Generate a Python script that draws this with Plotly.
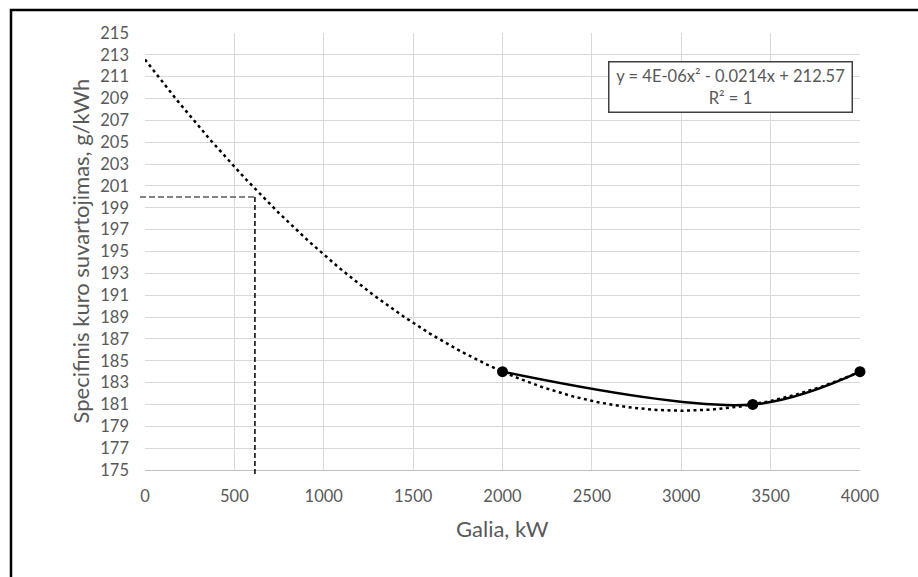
import numpy as np
import plotly.graph_objects as go

# Measured operating points: engine power (kW) vs specific fuel consumption (g/kWh)
power_kw = [2000, 3400, 4000]
consumption = [184, 181, 184]

# Polynomial trendline settings (order 2, projected back to 0 kW)
trend_start_kw = 0
trend_end_kw = 4000
trend_equation = "y = 4E-06x² - 0.0214x + 212.57"
trend_r2 = "R² = 1"

# Reading guide: 200 g/kWh
ref_power_kw = 615
ref_consumption = 200

x_ticks = [0, 500, 1000, 1500, 2000, 2500, 3000, 3500, 4000]
y_ticks = list(range(175, 216, 2))
x_range = [0, 4000]
y_range = [175, 215]

x_title = "Galia, kW"
y_title = "Specifinis kuro suvartojimas, g/kWh"

FONT = "Lato"
TXT = "#595959"
GRID = "#d9d9d9"

# Layout geometry (px)
W, H = 918, 577
ML, MR, MT, MB = 145, 58, 33, 107
PW, PH = W - ML - MR, H - MT - MB


def px_to_paper_x(px):
    return (px - ML) / PW


def px_to_paper_y(py):
    return (H - MB - py) / PH


def data_to_paper_x(v):
    return (v - x_range[0]) / (x_range[1] - x_range[0])


def data_to_paper_y(v):
    return (v - y_range[0]) / (y_range[1] - y_range[0])


coef = np.polyfit(power_kw, consumption, 2)
trend_x = np.linspace(trend_start_kw, trend_end_kw, 300)
trend_y = np.polyval(coef, trend_x)

fig = go.Figure()

fig.add_trace(go.Scatter(
    x=trend_x, y=trend_y, mode="lines",
    line=dict(color="black", width=2.5, dash="3px,3.5px"),
    hoverinfo="skip", showlegend=False,
))

fig.add_trace(go.Scatter(
    x=power_kw, y=consumption, mode="lines+markers",
    line=dict(color="black", width=2.5, shape="spline", smoothing=1),
    marker=dict(color="black", size=11),
    cliponaxis=False, showlegend=False,
))

# guide lines are placed in paper space so they can run slightly past the axes
guide_x = data_to_paper_x(ref_power_kw)
guide_y = data_to_paper_y(ref_consumption)

shapes = [
    # horizontal guide at the target consumption
    dict(type="line", xref="paper", yref="paper",
         x0=px_to_paper_x(140), x1=guide_x, y0=guide_y, y1=guide_y,
         line=dict(color="#595959", width=1.5, dash="6px,3px")),
    # vertical guide down to the power axis
    dict(type="line", xref="paper", yref="paper",
         x0=guide_x, x1=guide_x, y0=guide_y, y1=px_to_paper_y(477),
         line=dict(color="black", width=1.5, dash="5px,3px")),
    # outer chart frame
    dict(type="rect", xref="paper", yref="paper",
         x0=px_to_paper_x(11), x1=px_to_paper_x(W + 20),
         y0=px_to_paper_y(H + 20), y1=px_to_paper_y(10),
         line=dict(color="black", width=2.5), fillcolor="rgba(0,0,0,0)"),
]

annotations = [
    dict(x=3276, y=210.05, xref="x", yref="y",
         text=f"{trend_equation}<br>{trend_r2}", showarrow=False,
         xanchor="center", yanchor="middle",
         font=dict(family=FONT, size=16.5, color=TXT),
         bgcolor="white", bordercolor="#404040", borderwidth=1.5,
         borderpad=1, width=240, height=47, align="center"),
    dict(x=0.5, y=px_to_paper_y(528), xref="paper", yref="paper",
         text=x_title, showarrow=False, xanchor="center", yanchor="middle",
         font=dict(family=FONT, size=22, color=TXT)),
    dict(x=px_to_paper_x(80), y=0.5, xref="paper", yref="paper",
         text=y_title, showarrow=False, xanchor="center", yanchor="middle",
         textangle=-90, font=dict(family=FONT, size=22, color=TXT)),
]

fig.update_layout(
    width=W, height=H,
    margin=dict(l=ML, r=MR, t=MT, b=MB, autoexpand=False),
    paper_bgcolor="white", plot_bgcolor="white",
    shapes=shapes, annotations=annotations,
    font=dict(family=FONT, color=TXT),
)

fig.update_xaxes(
    range=x_range, tickvals=x_ticks, ticktext=[str(v) for v in x_ticks],
    showgrid=True, gridcolor=GRID, gridwidth=1,
    showline=True, linecolor="#bfbfbf", linewidth=1,
    zeroline=False, ticks="", ticklabelstandoff=11,
    tickfont=dict(family=FONT, size=16.5, color=TXT),
)
fig.update_yaxes(
    range=y_range, tickvals=y_ticks, ticktext=[str(v) for v in y_ticks],
    showgrid=True, gridcolor=GRID, gridwidth=1,
    showline=False, zeroline=False, ticks="", ticklabelstandoff=15,
    tickfont=dict(family=FONT, size=16.5, color=TXT),
)

fig.write_html("out.html")
